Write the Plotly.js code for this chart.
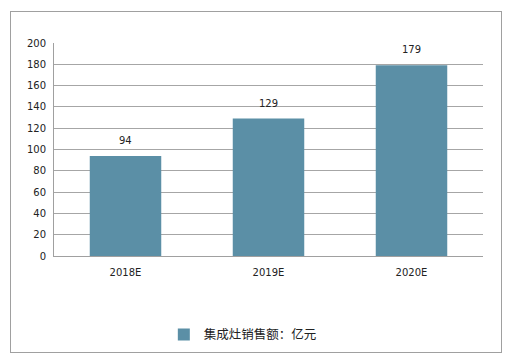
<!DOCTYPE html>
<html><head><meta charset="utf-8">
<script src="https://cdn.plot.ly/plotly-3.0.1.min.js"></script>
<style>html,body{margin:0;padding:0;background:#fff}#wrap{position:relative;width:508px;height:360px}
#frame{position:absolute;left:10px;top:11px;width:490px;height:340px;border:1px solid #a0a0a0;pointer-events:none}</style>
</head><body><div id="wrap"><div id="chart" style="width:508px;height:360px"></div><div id="frame"></div></div>
<script>
const categories = ["2018E", "2019E", "2020E"];
const values = [94, 129, 179];
const seriesName = "集成灶销售额：亿元";
const yTicks = [0, 20, 40, 60, 80, 100, 120, 140, 160, 180, 200];

const font = {family: "DejaVu Sans, 'Noto Sans CJK SC', sans-serif", size: 10, color: "#222"};
const labels = categories.map((c, i) => ({
  x: c, y: values[i], text: String(values[i]), showarrow: false,
  yanchor: "bottom", yshift: 8, font: {family: font.family, size: 10, color: "#222"}
}));
Plotly.newPlot("chart", [{
  type: "bar", x: categories, y: values, name: seriesName,
  marker: {color: "#5B8FA6"}, width: 0.5
}], {
  width: 508, height: 360,
  margin: {l: 54, r: 25, t: 43, b: 103},
  paper_bgcolor: "#fff", plot_bgcolor: "#fff",
  font: font,
  showlegend: true,
  annotations: labels,
  legend: {orientation: "h", x: 0.256, xanchor: "left", y: -0.364, yanchor: "middle",
           font: {family: "'Noto Sans CJK SC', DejaVu Sans, sans-serif", size: 12.5, color: "#222"}},
  xaxis: {showgrid: false, showline: true, linecolor: "#a0a0a0", linewidth: 1, ticks: "", tickfont: font,
          ticklabelstandoff: 7, fixedrange: true},
  yaxis: {range: [0, 200], tickvals: yTicks, showgrid: true, gridcolor: "#a6a6a6", gridwidth: 1,
          showline: true, linecolor: "#a0a0a0", ticks: "", tickfont: font, zeroline: false,
          ticklabelstandoff: 5, fixedrange: true}
}, {displayModeBar: false, staticPlot: true});
</script></body></html>
